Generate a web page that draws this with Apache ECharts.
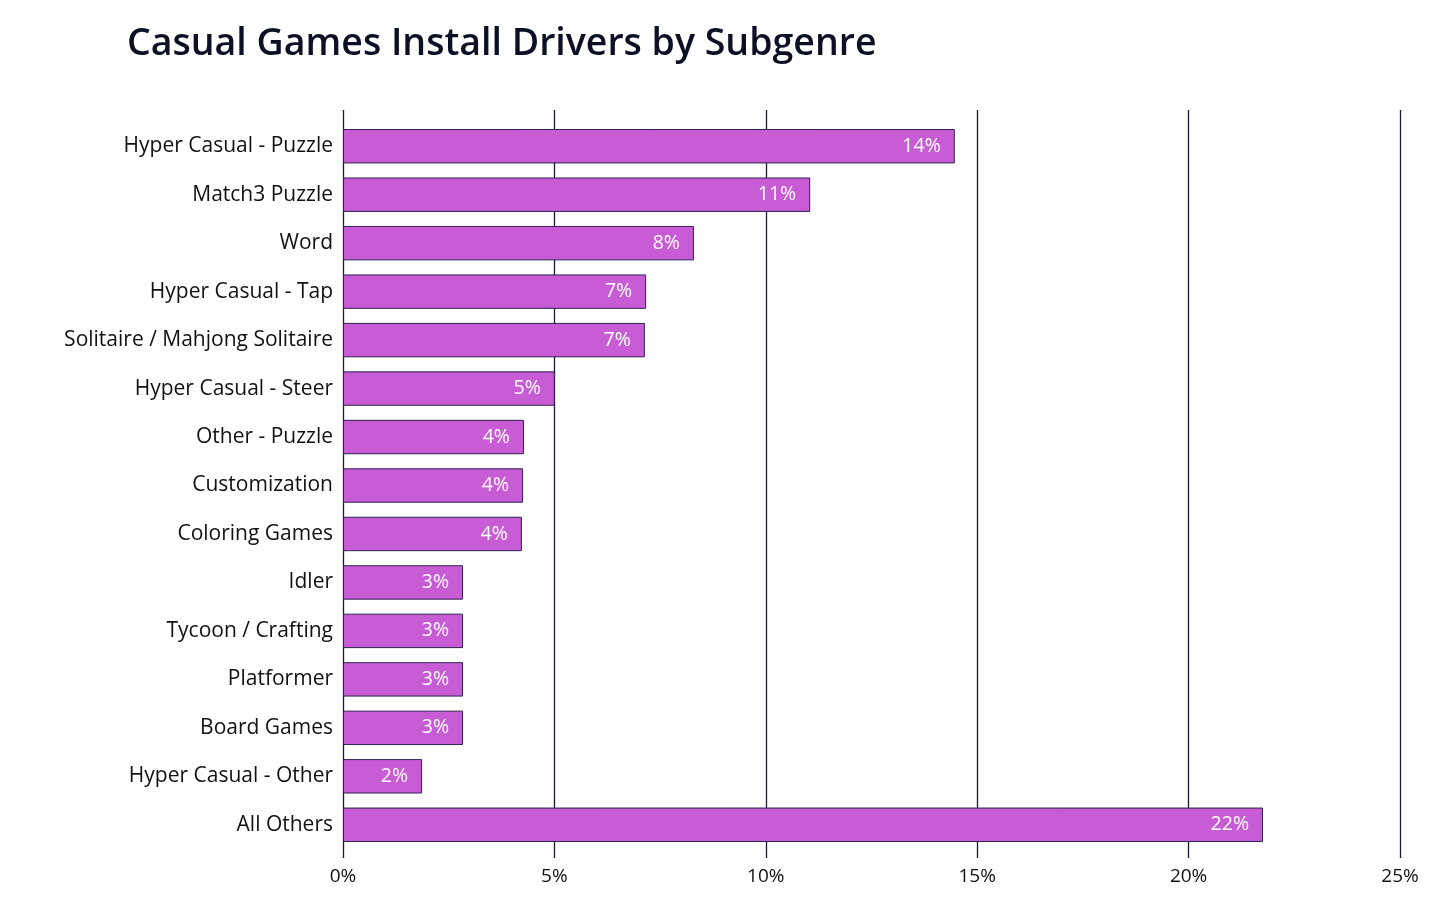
<!DOCTYPE html>
<html>
<head>
<meta charset="UTF-8">
<title>Casual Games Install Drivers by Subgenre</title>
<script src="https://cdn.jsdelivr.net/npm/echarts@6/dist/echarts.min.js"></script>
<style>
	html,body{margin:0;padding:0;background:#fff;}
	#main{width:1456px;height:920px;}
</style>
</head>
<body>
	<div id="main"></div>
	<script type="text/javascript">
		// subgenres, top to bottom
		var subgenres = [
			'Hyper Casual - Puzzle','Match3 Puzzle','Word','Hyper Casual - Tap',
			'Solitaire / Mahjong Solitaire','Hyper Casual - Steer','Other - Puzzle',
			'Customization','Coloring Games','Idler','Tycoon / Crafting','Platformer',
			'Board Games','Hyper Casual - Other','All Others'
		];
		// share of installs, %
		var shares = [14.47,11.05,8.30,7.17,7.14,5.01,4.28,4.26,4.23,2.84,2.84,2.84,2.84,1.87,21.76];
		var xTicks = [0,5,10,15,20,25];

		var font = '"Open Sans", "Noto Sans", sans-serif';
		var myChart = echarts.init(document.getElementById('main'));
		var option = {
			backgroundColor:'#fff',
			title:{
				text:'Casual Games Install Drivers by Subgenre',
				left:122, top:20,
				textStyle:{fontFamily:font,fontSize:37.5,fontWeight:600,color:'#0d0f24'}
			},
			grid:[
				// grid lines only, taller than the bars
				{left:343, right:56, top:110, bottom:62},
				{left:343, right:56, top:122, bottom:71}
			],
			xAxis:[
				{
					gridIndex:0, type:'value', min:xTicks[0], max:xTicks[xTicks.length-1], interval:5,
					axisLine:{show:false}, axisTick:{show:false},
					splitLine:{show:true,lineStyle:{color:'#1b1a33',width:1.3}},
					axisLabel:{
						fontFamily:font, fontSize:19, color:'#111', margin:9,
						formatter:function(v){return v+'%';}
					}
				},
				{
					gridIndex:1, type:'value', min:0, max:25, interval:5,
					axisLine:{show:false}, axisTick:{show:false}, axisLabel:{show:false},
					splitLine:{show:false}
				}
			],
			yAxis:[
				{gridIndex:0, type:'category', data:subgenres, inverse:true, show:false},
				{
					gridIndex:1, type:'category', data:subgenres, inverse:true,
					axisLine:{show:false}, axisTick:{show:false},
					axisLabel:{fontFamily:font, fontSize:21, color:'#111', margin:10}
				}
			],
			series:[
				{
					type:'bar', xAxisIndex:1, yAxisIndex:1,
					data:shares, barCategoryGap:'29%',
					itemStyle:{color:'#c85cd4', borderColor:'#2e2150', borderWidth:1},
					label:{
						show:true, position:'insideRight', distance:14,
						fontFamily:font, fontSize:19.5, color:'#fff',
						formatter:function(p){return Math.round(p.value)+'%';}
					}
				}
			]
		};
		myChart.setOption(option);
	</script>
</body>
</html>
